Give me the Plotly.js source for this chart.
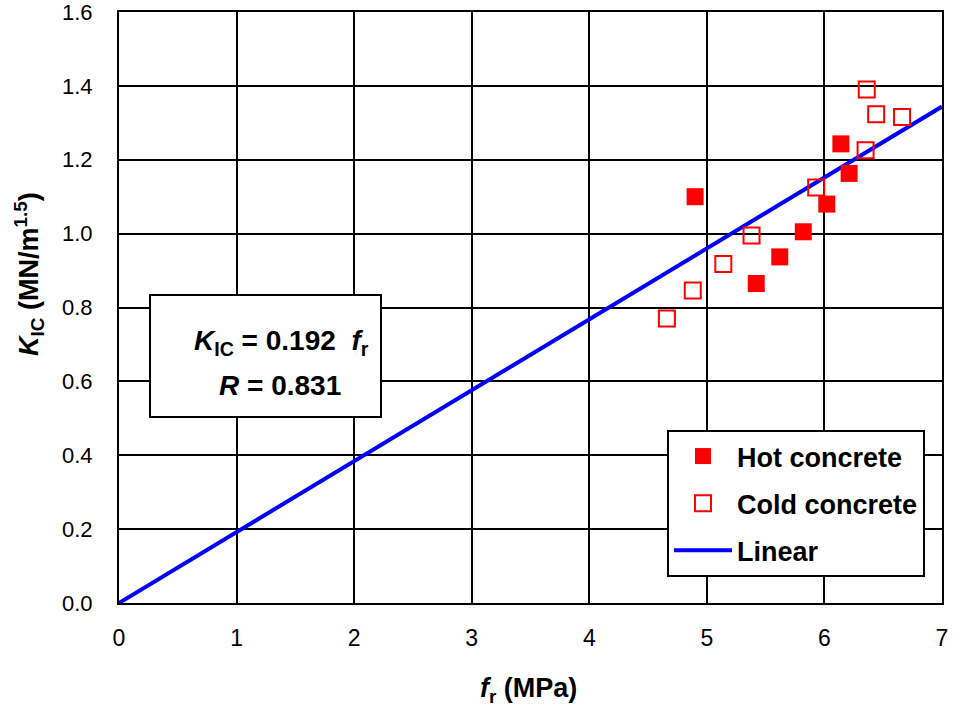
<!DOCTYPE html>
<html>
<head>
<meta charset="utf-8">
<script src="https://cdn.plot.ly/plotly-3.0.1.min.js"></script>
<style>html,body{margin:0;padding:0;background:#fff;}#chart{width:953px;height:709px;}</style>
</head>
<body>
<div id="chart"></div>
<script>
// Data
const hotX = [4.90, 5.42, 5.62, 5.82, 6.02, 6.21, 6.14];
const hotY = [1.100, 0.865, 0.937, 1.005, 1.080, 1.163, 1.243];
const coldX = [4.66, 4.88, 5.14, 5.38, 5.93, 6.35, 6.36, 6.44, 6.66];
const coldY = [0.770, 0.846, 0.918, 0.995, 1.125, 1.226, 1.390, 1.323, 1.316];
const fitSlope = 0.192;
const fitR = 0.831;
const fitX = [0, 7];
const fitY = fitX.map(v => fitSlope * v);
const xTicks = [0, 1, 2, 3, 4, 5, 6, 7];
const yTicks = [0, 0.2, 0.4, 0.6, 0.8, 1.0, 1.2, 1.4, 1.6];
const yTickText = yTicks.map(v => v.toFixed(1));

const FONT = 'Liberation Sans, Arial, sans-serif';
const W = 953, H = 709, ML = 119, MR = 11, MT = 12, MB = 106;
const PW = W - ML - MR, PH = H - MT - MB;
const px = x => (x - ML) / PW;       // pixel -> paper x
const py = y => (H - MB - y) / PH;   // pixel -> paper y

const traces = [
  {x: fitX, y: fitY, mode: 'lines', name: '<b>Linear</b>', legendgroup: 'c', legendrank: 3,
   line: {color: '#0000ff', width: 4}},
  {x: hotX, y: hotY, mode: 'markers', name: '<b>Hot concrete</b>', legendgroup: 'a', legendrank: 1,
   marker: {symbol: 'square', size: 17, color: '#ff0000', line: {width: 0}}},
  {x: coldX, y: coldY, mode: 'markers', name: '<b>Cold concrete</b>', legendgroup: 'b', legendrank: 2,
   marker: {symbol: 'square-open', size: 16, color: '#ff0000', line: {width: 2, color: '#ff0000'}}}
];

const layout = {
  width: W, height: H,
  margin: {l: ML, r: MR, t: MT, b: MB},
  paper_bgcolor: '#fff', plot_bgcolor: '#fff',
  showlegend: true,
  font: {family: FONT, color: '#000'},
  xaxis: {
    range: [0, 7], tickvals: xTicks, ticktext: xTicks.map(String),
    showgrid: true, gridcolor: '#000', gridwidth: 2,
    zeroline: false, showline: true, linecolor: '#000', linewidth: 2, mirror: true,
    ticks: '', ticklabelstandoff: 13, ticklabeloverflow: 'allow',
    tickfont: {family: FONT, size: 23, color: '#000'},
    fixedrange: true
  },
  yaxis: {
    range: [0, 1.6], tickvals: yTicks, ticktext: yTickText,
    showgrid: true, gridcolor: '#000', gridwidth: 2,
    zeroline: false, showline: true, linecolor: '#000', linewidth: 2, mirror: true,
    ticks: '', ticklabelstandoff: 20, ticklabeloverflow: 'allow',
    tickfont: {family: FONT, size: 22, color: '#000'},
    fixedrange: true
  },
  legend: {
    x: px(925), xanchor: 'right', y: py(577), yanchor: 'bottom',
    bgcolor: '#fff', bordercolor: '#000', borderwidth: 2,
    font: {family: FONT, size: 27, color: '#000'},
    traceorder: 'grouped', tracegroupgap: 9,
    itemwidth: 58
  },
  shapes: [
    {type: 'rect', xref: 'paper', yref: 'paper', x0: px(150), x1: px(381), y0: py(417), y1: py(295),
     line: {color: '#000', width: 2}, fillcolor: '#fff', layer: 'above'}
  ],
  annotations: [
    {xref: 'paper', yref: 'paper', x: px(528), y: py(690),
     xanchor: 'center', yanchor: 'middle', showarrow: false,
     text: '<b><i>f</i><sub>r</sub> (MPa)</b>', font: {family: FONT, size: 27, color: '#000'}},
    {xref: 'paper', yref: 'paper', x: px(29), y: py(274),
     xanchor: 'center', yanchor: 'middle', showarrow: false, textangle: -90,
     text: '<b><i>K</i><sub>IC</sub> (MN/m<sup>1.5</sup>)</b>', font: {family: FONT, size: 27, color: '#000'}},
    {xref: 'paper', yref: 'paper', x: px(281), y: py(342),
     xanchor: 'center', yanchor: 'middle', showarrow: false,
     text: '<b><i>K</i><sub>IC</sub> = 0.192  <i>f</i><sub>r</sub></b>',
     font: {family: FONT, size: 28, color: '#000'}},
    {xref: 'paper', yref: 'paper', x: px(280), y: py(385),
     xanchor: 'center', yanchor: 'middle', showarrow: false,
     text: '<b><i>R</i> = ' + fitR.toFixed(3) + '</b>',
     font: {family: FONT, size: 28, color: '#000'}}
  ]
};

Plotly.newPlot('chart', traces, layout, {displayModeBar: false, staticPlot: true});
</script>
</body>
</html>
